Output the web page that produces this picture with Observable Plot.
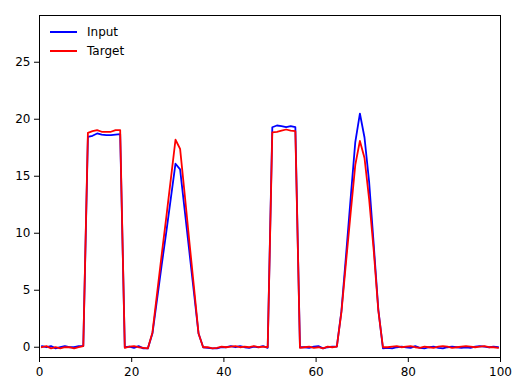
<!DOCTYPE html>
<html><head><meta charset="utf-8">
<script src="https://cdn.jsdelivr.net/npm/d3@7"></script>
<script src="https://cdn.jsdelivr.net/npm/@observablehq/plot@0.6"></script>
<style>
body{margin:0;background:#fff}
#wrap{position:relative;width:513px;height:379px}
.lg{position:absolute;left:50px;display:flex;align-items:center;height:14px;font:12px "DejaVu Sans";color:#000}
.sw{width:27px;height:2px;margin-right:10px}
</style></head><body><div id="wrap"></div>
<script>
const xTicks = [0, 20, 40, 60, 80, 100];
const yTicks = [0, 5, 10, 15, 20, 25];
const seriesNames = ["Input", "Target"];
const seriesColors = ["#0000ff", "#ff0000"];

const inputValues = [
  0.1, 0.0, 0.1, -0.1, 0.0, 0.1, 0.0, 0.0, 0.1, 0.1,
  18.45, 18.55, 18.75, 18.65, 18.6, 18.6, 18.65, 18.7,
  0.0, 0.05, -0.05, 0.1, -0.1, -0.1,
  1.2, 4.2, 7.2, 10.1, 13.1, 16.1, 15.6, 12.0, 8.4, 4.8, 1.2, 0.0,
  -0.05, -0.1, -0.1, 0.0, 0.0, 0.1, 0.0, 0.1, 0.0, -0.05, 0.05, 0.0, 0.1, -0.05,
  19.3, 19.45, 19.4, 19.3, 19.4, 19.3,
  0.0, 0.0, -0.05, 0.05, 0.1, -0.1, 0.0, 0.05,
  0.05, 3.2, 8.1, 13.1, 18.0, 20.5, 18.4, 14.5, 9.0, 3.3, -0.1,
  -0.05, -0.1, 0.0, 0.05, 0.0, -0.05, 0.1, -0.05, -0.1, 0.0,
  0.05, -0.05, -0.1, 0.0, 0.05, 0.0, -0.05, 0.0, -0.05, 0.05,
  0.1, 0.05, 0.0, 0.05, 0.0
];
const targetValues = [
  0.0, 0.1, -0.1, 0.0, -0.1, 0.0, 0.0, -0.1, 0.0, 0.1,
  18.8, 18.95, 19.05, 18.9, 18.9, 18.9, 19.05, 19.05,
  -0.05, 0.05, 0.1, 0.0, -0.05, -0.1,
  1.3, 4.7, 8.1, 11.4, 14.8, 18.2, 17.4, 13.4, 9.3, 5.3, 1.2, 0.0,
  0.0, -0.1, -0.05, 0.05, 0.0, 0.05, 0.1, 0.0, 0.05, 0.0, 0.1, 0.0, 0.05, 0.0,
  18.85, 18.9, 19.0, 19.1, 19.0, 18.95,
  -0.05, 0.0, 0.05, -0.05, 0.0, -0.1, 0.05, 0.0,
  0.05, 3.1, 7.5, 11.8, 16.0, 18.1, 16.6, 13.0, 8.5, 3.2, 0.0,
  0.0, 0.05, 0.1, 0.0, 0.05, 0.1, 0.0, -0.05, 0.05, 0.0,
  -0.05, 0.05, 0.1, 0.05, -0.05, 0.0, 0.05, 0.1, 0.05, 0.0,
  0.05, 0.1, 0.0, 0.0, -0.05
];

const xs = inputValues.map((_, i) => i + 0.5);
const rows = [];
[inputValues, targetValues].forEach((vals, s) => {
  vals.forEach((v, i) => rows.push({x: xs[i], y: v, series: seriesNames[s]}));
});

const chart = Plot.plot({
  width: 513,
  height: 379,
  marginLeft: 39,
  marginRight: 13,
  marginTop: 15,
  marginBottom: 22,
  style: {fontFamily: "DejaVu Sans", fontSize: "12px", background: "#fff", color: "#000", overflow: "visible"},
  x: {domain: [0, 100]},
  y: {domain: [-0.9, 29.1]},
  color: {domain: seriesNames, range: seriesColors},
  marks: [
    Plot.line(rows.filter(d => d.series === "Input"), {x: "x", y: "y", stroke: seriesColors[0], strokeWidth: 1.8}),
    Plot.line(rows.filter(d => d.series === "Target"), {x: "x", y: "y", stroke: seriesColors[1], strokeWidth: 1.8}),
    Plot.axisX({ticks: xTicks, tickSize: 5, tickPadding: 5, label: null, fontSize: 12, stroke: "#000", strokeWidth: 1}),
    Plot.axisY({ticks: yTicks, tickSize: 5, tickPadding: 4, label: null, fontSize: 12, stroke: "#000", strokeWidth: 1}),
    Plot.frame({stroke: "#000", strokeWidth: 1})
  ]
});
const wrap = document.getElementById("wrap");
wrap.appendChild(chart);
seriesNames.forEach((name, i) => {
  const row = document.createElement("div");
  row.className = "lg";
  row.style.top = (25 + i * 19) + "px";
  const sw = document.createElement("span");
  sw.className = "sw";
  sw.style.background = seriesColors[i];
  const t = document.createElement("span");
  t.textContent = name;
  row.appendChild(sw); row.appendChild(t);
  wrap.appendChild(row);
});
</script></body></html>
